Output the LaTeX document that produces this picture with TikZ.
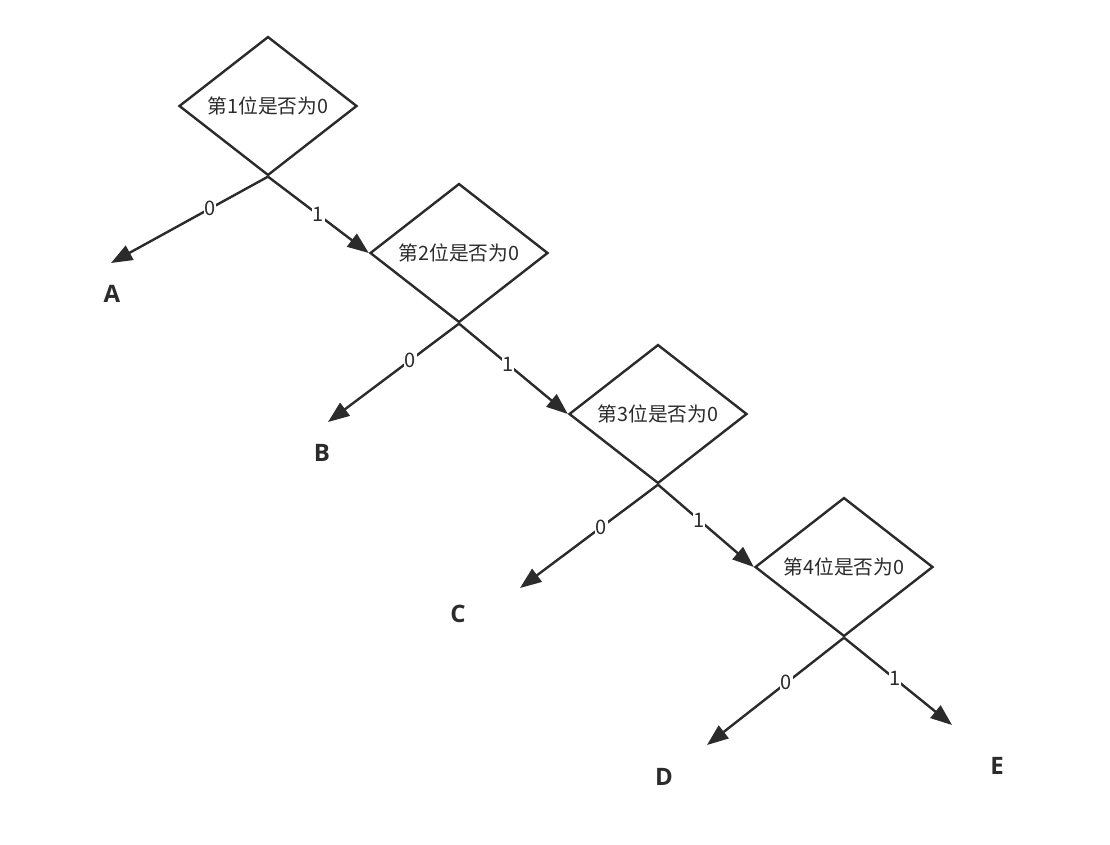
\documentclass[tikz,border=0pt]{standalone}
\usepackage{fontspec}
\setmainfont{Noto Sans}
\newfontfamily\cjk{Noto Sans CJK SC}
\newfontfamily\lbl{Open Sans}
\usetikzlibrary{shapes.geometric,arrows.meta}
\definecolor{ink}{HTML}{2B2B2B}
\begin{document}
\begin{tikzpicture}[x=0.75pt,y=-0.75pt,
  decision/.style={draw=ink,line width=1.8pt,shape=diamond,minimum width=133.5pt,minimum height=103.5pt,inner sep=0pt,text=ink,font=\cjk\fontsize{14.8}{17}\selectfont},
  edge/.style={draw=ink,line width=1.8pt,-{Triangle[length=16pt,width=12pt]}},
  elab/.style={fill=white,inner sep=0.5pt,text=ink,font=\cjk\fontsize{15}{17}\selectfont},
  leaf/.style={text=ink,font=\lbl\bfseries\fontsize{18}{21}\selectfont}]
\useasboundingbox (0,0) rectangle (1110,844);
\node[decision] (d1) at (268,106) {第1位是否为0};
\node[decision] (d2) at (459,253) {第2位是否为0};
\node[decision] (d3) at (658,414) {第3位是否为0};
\node[decision] (d4) at (844,567) {第4位是否为0};
\coordinate (ta) at (111,263);
\coordinate (tb) at (328,422);
\coordinate (tc) at (520,588);
\coordinate (td) at (707,745);
\coordinate (te) at (952,725);
\node[leaf] (A) at (112,294) {A};
\node[leaf] (B) at (322,453) {B};
\node[leaf] (C) at (458,614) {C};
\node[leaf] (D) at (664,777) {D};
\node[leaf] (E) at (997,766) {E};
\draw[edge] (d1.south) -- node[elab,pos=0.37]{0} (ta);
\draw[edge] (d1.south) -- node[elab,pos=0.5]{1} (d2.west);
\draw[edge] (d2.south) -- node[elab,pos=0.37]{0} (tb);
\draw[edge] (d2.south) -- node[elab,pos=0.45]{1} (d3.west);
\draw[edge] (d3.south) -- node[elab,pos=0.41]{0} (tc);
\draw[edge] (d3.south) -- node[elab,pos=0.43]{1} (d4.west);
\draw[edge] (d4.south) -- node[elab,pos=0.42]{0} (td);
\draw[edge] (d4.south) -- node[elab,pos=0.47]{1} (te);
\end{tikzpicture}
\end{document}
